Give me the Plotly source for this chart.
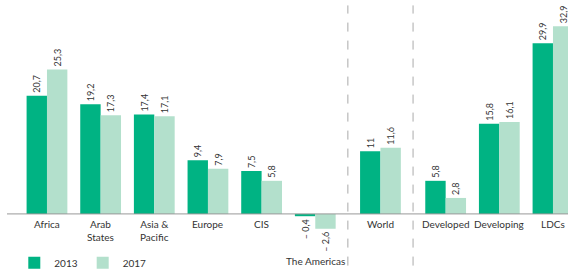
import plotly.graph_objects as go

categories = ["Africa", "Arab<br>States", "Asia &<br>Pacific", "Europe", "CIS", "The Americas",
              "World", "Developed", "Developing", "LDCs"]
groups = [0, 0, 0, 0, 0, 0, 1, 2, 2, 2]
v2013 = [20.7, 19.2, 17.4, 9.4, 7.5, -0.4, 11, 5.8, 15.8, 29.9]
v2017 = [25.3, 17.3, 17.1, 7.9, 5.8, -2.6, 11.6, 2.8, 16.1, 32.9]
series_names = ["2013", "2017"]

C13 = "#00B383"
C17 = "#B3E0CC"
FONT = "Lato"
GAP = 0.215
xpos = [i + GAP * g for i, g in enumerate(groups)]


def fmt(v):
    s = ("%g" % abs(v)).replace(".", ",")
    return ("\u2013 " + s) if v < 0 else s


fig = go.Figure()
for name, vals, col in [(series_names[0], v2013, C13), (series_names[1], v2017, C17)]:
    fig.add_trace(go.Bar(
        x=xpos, y=vals, name=name, marker=dict(color=col, line=dict(width=0)),
        text=[fmt(v) for v in vals], textposition="outside", textangle=-90,
        textfont=dict(size=9, color="#333", family=FONT),
        cliponaxis=False, constraintext="none",
    ))

annotations = []
for x, c in zip(xpos, categories):
    ys = -39 if c == "The Americas" else -2
    annotations.append(dict(x=x, y=0, xref="x", yref="y", text=c, showarrow=False,
                            yanchor="top", yshift=ys, font=dict(size=10, color="#333", family=FONT)))

shapes = [dict(type="line", xref="x", yref="y", x0=-0.745, x1=9.75, y0=0, y1=0,
               line=dict(color="#999", width=1))]
for a, b in [(5, 6), (6, 7)]:
    xm = (xpos[a] + xpos[b]) / 2
    shapes.append(dict(type="line", xref="x", yref="paper", x0=xm, x1=xm, y0=0.02, y1=0.98,
                       line=dict(color="#aaa", width=1, dash="dash")))

fig.update_layout(
    width=568, height=271, margin=dict(l=7, r=0, t=0, b=0, autoexpand=False),
    plot_bgcolor="white", paper_bgcolor="white",
    barmode="group", bargap=0.24, bargroupgap=0,
    xaxis=dict(range=[-0.745, 9.71], visible=False),
    yaxis=dict(range=[-10, 37.48], visible=False),
    font=dict(family=FONT, size=10, color="#333"),
    legend=dict(orientation="h", x=0.013, y=0.03, xanchor="left", yanchor="middle",
                font=dict(size=10), itemwidth=30, bgcolor="rgba(0,0,0,0)"),
    annotations=annotations, shapes=shapes,
)
fig.write_html("out.html", config={"displayModeBar": False},
               post_script="document.body.style.margin='0';document.body.style.overflow='hidden';")
